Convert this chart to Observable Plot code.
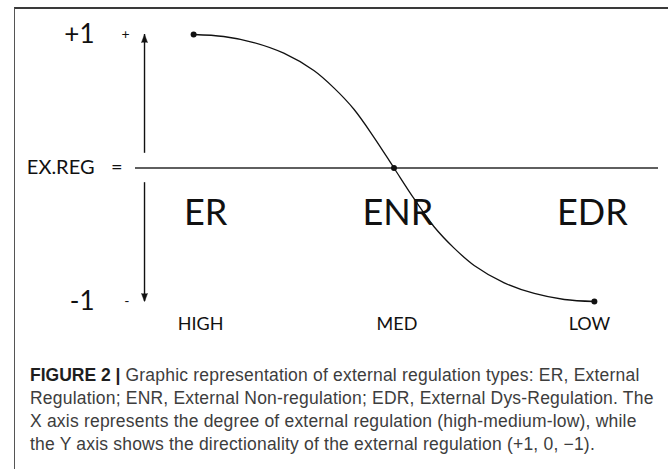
<!DOCTYPE html>
<html><head><meta charset="utf-8">
<script src="https://cdn.jsdelivr.net/npm/d3@7"></script>
<script src="https://cdn.jsdelivr.net/npm/@observablehq/plot@0.6"></script>
<style>
body{margin:0;background:#fff;}
#wrap{position:relative;width:668px;height:469px;overflow:hidden;background:#fff;}
#frame{position:absolute;left:14px;top:7px;right:-5px;bottom:-5px;border-top:2px solid #3a3a3a;border-left:1.5px solid #555;pointer-events:none;}
#chart{position:absolute;left:0;top:0;}
#caption{position:absolute;left:30px;top:364px;font-family:"Liberation Sans",Arial,sans-serif;font-size:17.5px;letter-spacing:0.2px;line-height:23px;color:#3d3d3d;white-space:nowrap;}
#caption b{color:#1e1e1e;letter-spacing:0;}
</style></head><body>
<div id="wrap"><div id="chart"></div><div id="caption"></div><div id="frame"></div></div>
<script>
// ---- data ----
const levels = ["HIGH", "MED", "LOW"];
const levelX = [0, 1, 2];
const types = ["ER", "ENR", "EDR"];
const typeX = [0, 1, 2];
const yTickValues = [1, -1];
const yTickLabels = ["+1", "-1"];
const ySignLabels = ["+", "-"];
const zeroLabels = ["EX.REG", "="];
const curveX = [0, 0.15, 0.3, 0.45, 0.6, 0.7, 0.8, 0.9, 1, 1.1, 1.2, 1.3, 1.4, 1.55, 1.7, 1.85, 2];
const curveY = [1, 0.985, 0.94, 0.86, 0.73, 0.6, 0.44, 0.23, 0, -0.23, -0.44, -0.6, -0.73, -0.86, -0.94, -0.985, -1];
const anchorX = [0, 1, 2];
const anchorY = [1, 0, -1];
const captionTitle = "FIGURE 2 |";
const captionLines = [
  " Graphic representation of external regulation types: ER, External",
  "Regulation; ENR, External Non-regulation; EDR, External Dys-Regulation. The",
  "X axis represents the degree of external regulation (high-medium-low), while",
  "the Y axis shows the directionality of the external regulation (+1, 0, \u22121)."
];

// ---- layout constants (styles) ----
const axisPos = -0.245;   // where the y arrow sits on the x scale
const arrowGap = 0.11;    // gap of the arrows around the EX.REG line
const typeDx = [12, 4, -2];
const levelDx = [7, 3, -5];
const ink = "#111";
const chartFont = "Lato, 'Open Sans', sans-serif";

const curve = curveX.map((x, i) => ({x, y: curveY[i]}));
const anchors = anchorX.map((x, i) => ({x, y: anchorY[i]}));

const plot = Plot.plot({
  width: 668, height: 345,
  marginLeft: 135, marginRight: 10, marginTop: 34, marginBottom: 44,
  x: {domain: [-0.29, 2.32], axis: null},
  y: {domain: [-1, 1]},
  style: {fontFamily: chartFont, color: ink, background: "transparent", overflow: "visible"},
  marks: [
    Plot.axisY({ticks: yTickValues, tickSize: 0, tickPadding: 41, fontSize: 26, label: null,
      tickFormat: d => yTickLabels[yTickValues.indexOf(d)]}),
    Plot.axisY({ticks: yTickValues, tickSize: 0, tickPadding: 6, fontSize: 14, label: null,
      tickFormat: d => ySignLabels[yTickValues.indexOf(d)]}),
    Plot.axisY({ticks: [0], tickSize: 0, tickPadding: 41, fontSize: 20, label: null,
      tickFormat: () => zeroLabels[0]}),
    Plot.axisY({ticks: [0], tickSize: 0, tickPadding: 13, fontSize: 20, label: null,
      tickFormat: () => zeroLabels[1]}),
    ...levels.map((l, i) => Plot.text([l], {x: levelX[i], y: -1, dy: 23, dx: levelDx[i], text: d => d, fontSize: 18, fill: ink})),
    Plot.ruleY([0], {stroke: "#2a2a2a", strokeWidth: 1.5}),
    Plot.ruleX([axisPos], {y1: arrowGap, y2: 1, stroke: ink, strokeWidth: 1.4}),
    Plot.ruleX([axisPos], {y1: -arrowGap, y2: -1, stroke: ink, strokeWidth: 1.4}),
    Plot.vector([{x: axisPos, y: 1}], {x: "x", y: "y", length: 8, r: 3, shape: "spike", anchor: "end", rotate: 0, fill: ink, stroke: ink, strokeWidth: 0.5}),
    Plot.vector([{x: axisPos, y: -1}], {x: "x", y: "y", length: 8, r: 3, shape: "spike", anchor: "end", rotate: 180, fill: ink, stroke: ink, strokeWidth: 0.5}),
    ...types.map((t, i) => Plot.text([t], {x: typeX[i], y: 0, dy: 45, dx: typeDx[i], text: d => d, fontSize: 36, fill: ink})),
    Plot.line(curve, {x: "x", y: "y", curve: "catmull-rom", stroke: ink, strokeWidth: 1.3}),
    Plot.dot(anchors, {x: "x", y: "y", r: 3, fill: ink, stroke: null})
  ]
});
document.getElementById("chart").appendChild(plot);

const cap = document.getElementById("caption");
cap.innerHTML = "<b>" + captionTitle + "</b>" + captionLines.map(l => l.replace(/&/g, "&amp;")).join("<br>");
</script>
</body></html>
